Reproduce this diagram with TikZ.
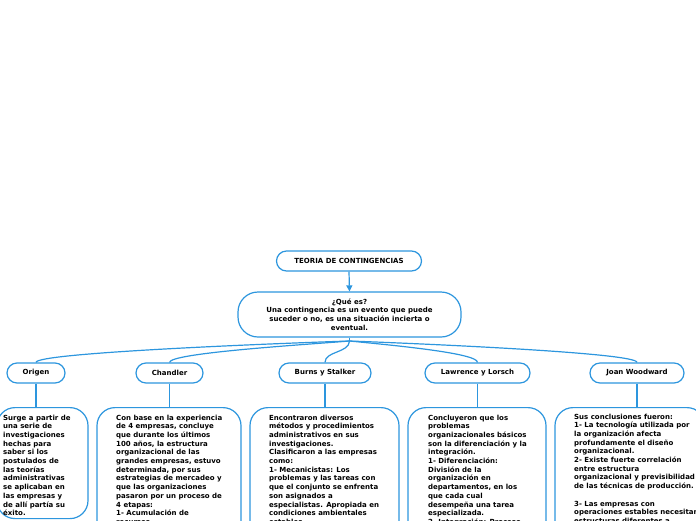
\documentclass[tikz,border=0pt]{standalone}
\usepackage{fontspec}
\setmainfont{DejaVu Sans}
\usetikzlibrary{arrows.meta}
\definecolor{lineblue}{RGB}{45,150,222}
\begin{document}
\begin{tikzpicture}[x=1pt,y=-1pt,
  txt/.style={font=\bfseries\fontsize{7}{8.7}\selectfont, text=black},
  pill/.style={draw=lineblue, line width=1.2pt, fill=white, rounded corners=10pt, inner sep=0pt, txt, align=center},
  detailbox/.style={draw=lineblue, line width=1.2pt, fill=white, rounded corners=18pt, inner sep=0pt, anchor=north},
  detailtext/.style={txt, inner sep=0pt, anchor=north west, align=left},
  conn/.style={draw=lineblue, line width=1.2pt}]
\useasboundingbox (0,0) rectangle (696,520);

% top
\node[pill, minimum width=145pt, minimum height=20pt] (title) at (349,261) {TEORIA DE CONTINGENCIAS};
\node[pill, rounded corners=20pt, minimum width=223pt, minimum height=45pt] (quees) at (349.5,314.5)
  {¿Qué es?\\Una contingencia es un evento que puede\\suceder o no, es una situación incierta o\\eventual.};
\draw[conn, -{Triangle[length=6pt,width=6pt]}] (title.south) -- (quees.north);
\coordinate (hub) at (349.5,341);
\draw[conn] (quees.south) -- (hub);

% children
\node[pill, minimum width=58pt, minimum height=20pt] (origen) at (36,373) {Origen};
\node[pill, minimum width=67pt, minimum height=20pt] (chandler) at (169.5,373) {Chandler};
\node[pill, minimum width=92pt, minimum height=20pt] (burns) at (325,373) {Burns y Stalker};
\node[pill, minimum width=105pt, minimum height=20pt] (lawrence) at (477.5,373) {Lawrence y Lorsch};
\node[pill, minimum width=94pt, minimum height=20pt] (joan) at (637,373) {Joan Woodward};

\draw[conn] (hub) .. controls (260,344) and (36,353) .. (origen.north);
\draw[conn] (hub) .. controls (300,345) and (170,353) .. (chandler.north);
\draw[conn] (hub) .. controls (349,353) and (325,351) .. (burns.north);
\draw[conn] (hub) .. controls (390,345) and (478,353) .. (lawrence.north);
\draw[conn] (hub) .. controls (430,344) and (637,353) .. (joan.north);

% detail boxes
\node[detailbox, minimum width=91pt, minimum height=111pt] (origenbox) at (42.5,407) {};
\node[detailbox, minimum width=144pt, minimum height=200pt] (chandlerbox) at (169,407) {};
\node[detailbox, minimum width=149pt, minimum height=200pt] (burnsbox) at (324.5,407) {};
\node[detailbox, minimum width=138pt, minimum height=200pt] (lawrencebox) at (477,407) {};
\node[detailbox, minimum width=150pt, minimum height=200pt] (joanbox) at (630,407) {};

\draw[conn] (origen.south) -- (origen.south |- origenbox.north);
\draw[conn] (chandler.south) -- (chandler.south |- chandlerbox.north);
\draw[conn] (burns.south) -- (burns.south |- burnsbox.north);
\draw[conn] (lawrence.south) -- (lawrence.south |- lawrencebox.north);
\draw[conn] (joan.south) -- (joan.south |- joanbox.north);

\node[detailtext] (origentext) at (3,414.5) {Surge a partir de\\una serie de\\investigaciones\\hechas para\\saber si los\\postulados de\\las teorías\\administrativas\\se aplicaban en\\las empresas y\\de allí partía su\\éxito.};
\node[detailtext] (chandlertext) at (116,414.5) {Con base en la experiencia\\de 4 empresas, concluye\\que durante los últimos\\100 años, la estructura\\organizacional de las\\grandes empresas, estuvo\\determinada, por sus\\estrategias de mercadeo y\\que las organizaciones\\pasaron por un proceso de\\4 etapas:\\1- Acumulación de\\recursos.};
\node[detailtext] (burnstext) at (269,414.5) {Encontraron diversos\\métodos y procedimientos\\administrativos en sus\\investigaciones.\\Clasificaron a las empresas\\como:\\1- Mecanicistas: Los\\problemas y las tareas con\\que el conjunto se enfrenta\\son asignados a\\especialistas. Apropiada en\\condiciones ambientales\\estables.};
\node[detailtext] (lawrencetext) at (428,414.5) {Concluyeron que los\\problemas\\organizacionales básicos\\son la diferenciación y la\\integración.\\1- Diferenciación:\\División de la\\organización en\\departamentos, en los\\que cada cual\\desempeña una tarea\\especializada.\\2- Integración: Proceso};
\node[detailtext] (joantext) at (574,413.5) {Sus conclusiones fueron:\\1- La tecnología utilizada por\\la organización afecta\\profundamente el diseño\\organizacional.\\2- Existe fuerte correlación\\entre estructura\\organizacional y previsibilidad\\de las técnicas de producción.\\[8.7pt]3- Las empresas con\\operaciones estables necesitan\\estructuras diferentes a};
\end{tikzpicture}
\end{document}
